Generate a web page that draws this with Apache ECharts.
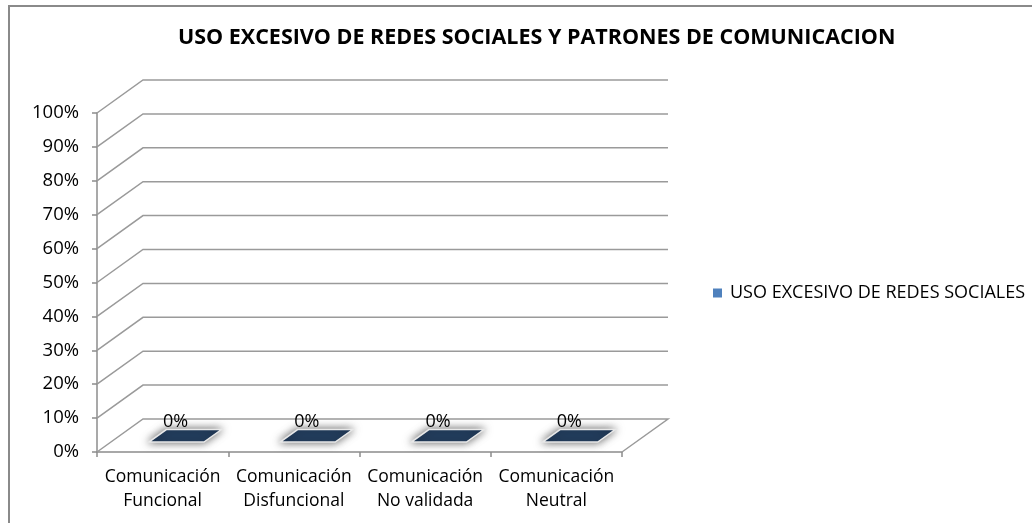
<!DOCTYPE html>
<html>
<head>
<meta charset="utf-8">
<script src="https://cdn.jsdelivr.net/npm/echarts@6/dist/echarts.min.js"></script>
<style>
  html, body { margin: 0; padding: 0; background: #fff; }
  #chart { width: 1032px; height: 523px; }
</style>
</head>
<body>
<div id="chart"></div>
<script>
// datos
var categories = ['Comunicación\nFuncional', 'Comunicación\nDisfuncional', 'Comunicación\nNo validada', 'Comunicación\nNeutral']
var seriesName = 'USO EXCESIVO DE REDES SOCIALES'
var values = [0, 0, 0, 0]
var yTicks = [0, 10, 20, 30, 40, 50, 60, 70, 80, 90, 100]

// desplazamiento de la "profundidad" 3D
var DX = 46, DY = -33

var chart = echarts.init(document.getElementById('chart'))

// pared de fondo y piso: una linea quebrada por cada valor del eje
function renderWall(params, api) {
  var cs = params.coordSys
  var v = api.value(1)
  var y = api.coord([0, v])[1]
  var x0 = cs.x, w = cs.width
  var pts = [[x0, y], [x0 + DX, y + DY], [x0 + w + DX, y + DY]]
  if (v === 0) pts.push([x0 + w, y])
  return {
    type: 'polyline',
    shape: { points: pts },
    style: { stroke: '#9a9a9a', lineWidth: 1.5, fill: null },
    silent: true
  }
}

// barra 3D (con valor 0 solo queda la cara superior)
function renderBar(params, api) {
  var i = api.value(0)
  var v = api.value(1)
  var base = api.coord([i, 0])
  var top = api.coord([i, v])
  var bw = api.size([1, 0])[0] * 0.42
  var d0 = 0.3, d1 = 0.68
  var cx = base[0]
  var l = cx - bw / 2, r = cx + bw / 2
  var children = []
  var faceStyle = {
    fill: '#243f60', stroke: '#e8e8e8', lineWidth: 1.5,
    shadowBlur: 9, shadowColor: 'rgba(0,0,0,0.6)'
  }
  if (v > 0) {
    children.push({
      type: 'polygon',
      shape: { points: [[l + DX * d0, top[1] + DY * d0], [r + DX * d0, top[1] + DY * d0], [r + DX * d0, base[1] + DY * d0], [l + DX * d0, base[1] + DY * d0]] },
      style: faceStyle
    })
  }
  children.push({
    type: 'polygon',
    shape: { points: [
      [l + DX * d0, top[1] + DY * d0], [r + DX * d0, top[1] + DY * d0],
      [r + DX * d1, top[1] + DY * d1], [l + DX * d1, top[1] + DY * d1]
    ] },
    style: faceStyle
  })
  children.push({
    type: 'text',
    x: cx + 13,
    y: top[1] - 30,
    style: {
      text: v + '%', fill: '#000', font: '18px "Open Sans"',
      align: 'center', verticalAlign: 'middle'
    }
  })
  return { type: 'group', children: children }
}

var option = {
  backgroundColor: '#fff',
  textStyle: { fontFamily: 'Open Sans' },
  graphic: [{
    type: 'rect',
    shape: { x: 9, y: 6, width: 1100, height: 600 },
    style: { fill: null, stroke: '#8a8a8a', lineWidth: 2 },
    silent: true
  }],
  title: {
    text: 'USO EXCESIVO DE REDES SOCIALES Y PATRONES DE COMUNICACION',
    left: 173,
    top: 22,
    textStyle: { fontFamily: 'Open Sans', fontWeight: 'bold', fontSize: 21.5, color: '#000' }
  },
  legend: {
    left: 708,
    top: 279,
    icon: 'rect',
    itemWidth: 9,
    itemHeight: 9,
    itemGap: 8,
    textStyle: { fontFamily: 'Open Sans', fontSize: 18, color: '#000', padding: [0, 0, 0, 3] },
    data: [{ name: seriesName, itemStyle: { color: '#4f81bd' } }]
  },
  grid: { left: 97, right: 410, top: 113, bottom: 71 },
  xAxis: {
    type: 'category',
    data: categories,
    boundaryGap: true,
    axisLine: { lineStyle: { color: '#8c8c8c', width: 1.5 } },
    axisTick: { show: true, length: 5, lineStyle: { color: '#8c8c8c', width: 1.5 } },
    axisLabel: { color: '#000', fontSize: 17.5, lineHeight: 24, margin: 13, interval: 0 }
  },
  yAxis: {
    type: 'value',
    min: 0,
    max: 100,
    interval: 10,
    axisLine: { show: true, lineStyle: { color: '#8c8c8c', width: 1.5 } },
    axisTick: { show: true, length: 5, lineStyle: { color: '#8c8c8c', width: 1.5 } },
    splitLine: { show: false },
    axisLabel: { color: '#000', fontSize: 18.5, margin: 18, formatter: '{value}%' }
  },
  series: [
    {
      type: 'custom',
      name: 'pared',
      renderItem: renderWall,
      data: yTicks.map(function (t) { return [0, t] }),
      z: 1,
      silent: true
    },
    {
      type: 'custom',
      name: seriesName,
      renderItem: renderBar,
      itemStyle: { color: '#4f81bd' },
      data: values.map(function (v, i) { return [i, v] }),
      z: 3
    }
  ]
}
chart.setOption(option)
</script>
</body>
</html>
